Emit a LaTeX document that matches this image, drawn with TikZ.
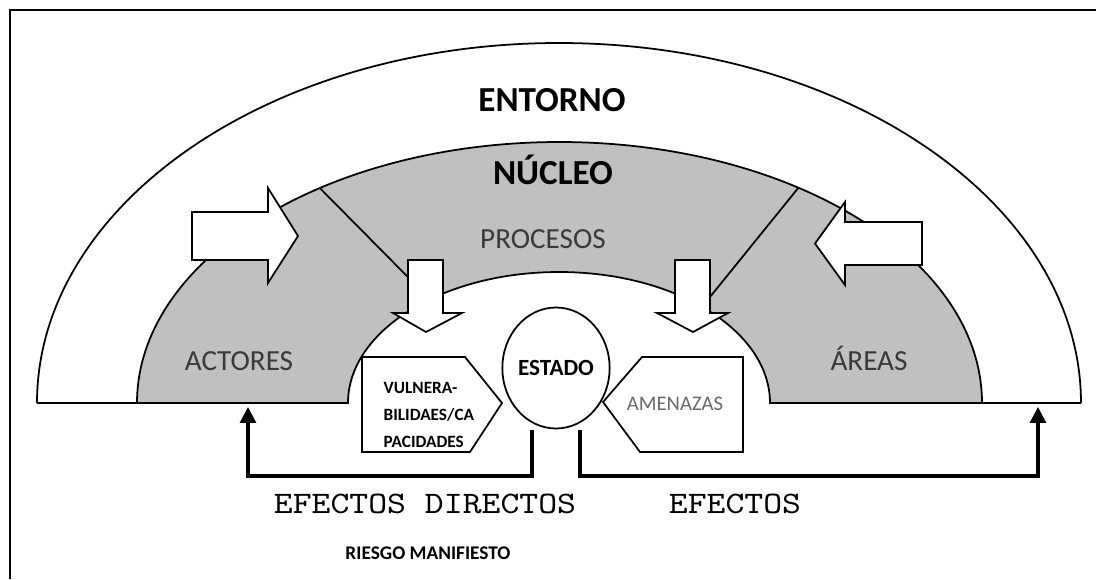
\documentclass[tikz,border=0pt]{standalone}
\usepackage{fontspec}
\setmainfont{Carlito}
\newfontfamily\efmono[FakeStretch=1.15]{lmmono10-regular.otf}
\usetikzlibrary{shapes.geometric, arrows.meta}

\definecolor{nucleogray}{RGB}{192,192,192}
\definecolor{labelgray}{RGB}{58,58,58}
\definecolor{lightlabel}{RGB}{105,105,105}

\tikzset{
	outline/.style={draw=black, line width=0.5pt},
	blockarrow/.style={outline, fill=white, line join=miter},
	fb/.style={line width=0.9pt, -{Triangle[length=4.5pt,width=4.5pt]}},
	bigtitle/.style={anchor=base, font=\fontsize{10}{12}\selectfont\bfseries},
	ringlabel/.style={anchor=base, text=labelgray, font=\fontsize{8.3}{10}\selectfont},
	efectos/.style={anchor=base, font=\efmono\fontsize{8.9}{11}\selectfont}
}

\begin{document}
\begin{tikzpicture}
	\useasboundingbox (0,0) rectangle (10.96,5.79);
	\draw[line width=0.6pt] (0.10,0) -- (0.10,5.69) -- (10.96,5.69);

	\coordinate (c) at (5.59,1.76);
	\draw[outline] (0.37,1.76) arc[start angle=180, end angle=0, x radius=5.22, y radius=3.60];
	\draw[outline] (0.37,1.76) -- (1.37,1.76);
	\draw[outline] (9.82,1.76) -- (10.81,1.76);

	\draw[outline, fill=nucleogray] (1.37,1.76) arc[start angle=180, end angle=0, x radius=4.225, y radius=2.61]
		-- (7.70,1.76) arc[start angle=0, end angle=180, x radius=2.11, y radius=1.31] -- cycle;
	\draw[outline] ([shift={(124.5:4.225 and 2.61)}]c) -- ([shift={(127.7:2.11 and 1.31)}]c);
	\draw[outline] ([shift={(55.5:4.225 and 2.61)}]c) -- ([shift={(47.3:2.11 and 1.31)}]c);

	\draw[blockarrow] (1.92,3.67) -- (2.68,3.67) -- (2.68,3.91) -- (2.98,3.43) -- (2.68,2.96) -- (2.68,3.19) -- (1.92,3.19) -- cycle;
	\draw[blockarrow] (9.22,3.57) -- (8.45,3.57) -- (8.45,3.77) -- (8.15,3.355) -- (8.45,2.94) -- (8.45,3.14) -- (9.22,3.14) -- cycle;
	\draw[blockarrow] (4.08,3.19) -- (4.43,3.19) -- (4.43,2.66) -- (4.62,2.66) -- (4.26,2.47) -- (3.93,2.66) -- (4.08,2.66) -- cycle;
	\draw[blockarrow] (6.75,3.19) -- (7.10,3.19) -- (7.10,2.66) -- (7.28,2.66) -- (6.93,2.47) -- (6.57,2.66) -- (6.75,2.66) -- cycle;

	\draw[blockarrow] (3.62,2.22) -- (4.65,2.22) -- (5.02,1.76) -- (4.70,1.27) -- (3.62,1.27) -- cycle;
	\draw[blockarrow] (6.42,2.22) -- (7.43,2.22) -- (7.43,1.27) -- (6.40,1.27) -- (6.03,1.77) -- cycle;
	\node[ellipse, outline, fill=white, minimum width=1.06cm, minimum height=1.21cm, inner sep=0pt,
		font=\fontsize{6.6}{8}\selectfont\bfseries] (estado) at (5.56,2.11) {ESTADO};

	\node[anchor=west, align=left, inner sep=0pt, font=\fontsize{4.9}{7.6}\selectfont\bfseries] (vuln) at (3.83,1.64)
		{VULNERA-\\BILIDAES/CA\\PACIDADES};
	\node[anchor=base, text=lightlabel, font=\fontsize{5.9}{7}\selectfont] (amen) at (6.75,1.69) {AMENAZAS};

	\coordinate (dirL) at (5.32,1.49);
	\coordinate (dirR) at (5.80,1.49);
	\coordinate (low) at (0,1.03);
	\coordinate (actin) at (2.48,1.72);
	\coordinate (arein) at (10.38,1.72);
	\draw[fb] (dirL) -- (dirL |- low) -| (actin);
	\draw[fb] (dirR) -- (dirR |- low) -| (arein);

	\node[bigtitle] (entorno) at (5.52,4.68) {ENTORNO};
	\node[bigtitle] (nucleo) at (5.53,3.95) {NÚCLEO};
	\node[ringlabel] (procesos) at (5.43,3.31) {PROCESOS};
	\node[ringlabel] (actores) at (2.39,2.09) {ACTORES};
	\node[ringlabel] (areas) at (8.69,2.09) {ÁREAS};

	\node[efectos] (efdir) at (4.25,0.66) {EFECTOS DIRECTOS};
	\node[efectos] (efec) at (7.35,0.66) {EFECTOS};
	\node[anchor=base, font=\fontsize{5.5}{7}\selectfont\bfseries] (riesgo) at (4.28,0.20) {RIESGO MANIFIESTO};
\end{tikzpicture}
\end{document}
